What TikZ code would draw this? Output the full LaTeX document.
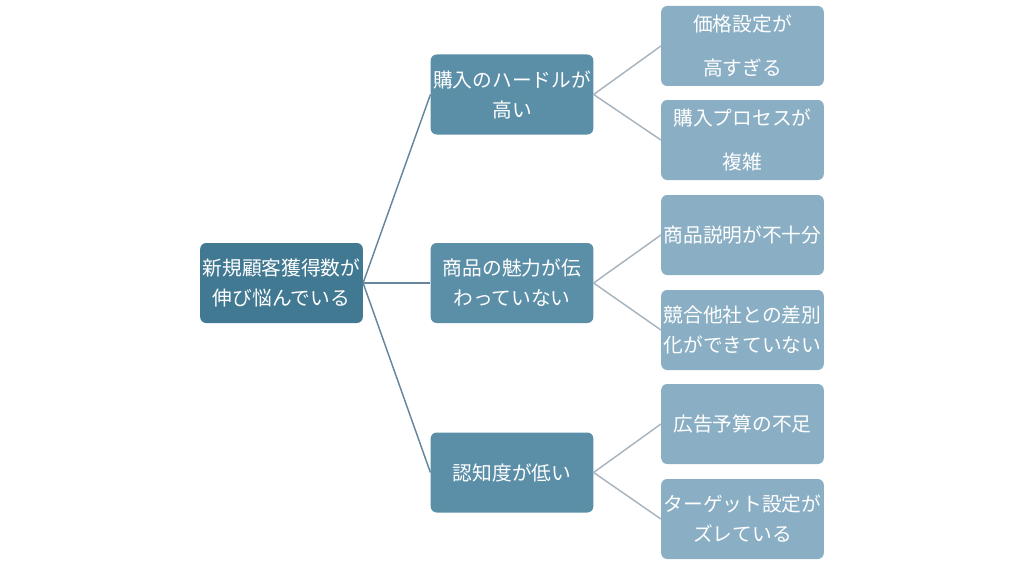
\documentclass[tikz,border=0pt]{standalone}
\usepackage{fontspec}
\setmainfont{Noto Sans CJK JP}
\definecolor{rootblue}{RGB}{66,121,146}
\definecolor{midblue}{RGB}{91,142,167}
\definecolor{leafblue}{RGB}{138,175,196}
\definecolor{midline}{RGB}{104,133,158}
\definecolor{leafline}{RGB}{168,180,190}
\tikzset{
  box/.style={rounded corners=4.5pt, text=white, align=center, inner sep=0.5pt,
    minimum width=121pt, minimum height=60pt, text width=121pt,
    font=\fontsize{14.8pt}{22.5pt}\selectfont},
  rootbox/.style={box, fill=rootblue},
  midbox/.style={box, fill=midblue},
  leafbox/.style={box, fill=leafblue},
  widegap/.style={font=\fontsize{14.8pt}{32.5pt}\selectfont},
}
\begin{document}
\begin{tikzpicture}[x=0.75pt,y=-0.75pt]
      \useasboundingbox (0,0) rectangle (1024,567);

      % Root
      \node[rootbox] (root) at (281.5,283) {新規顧客獲得数が\\伸び悩んでいる};

      % Middle level
      \node[midbox] (buy) at (512,94.5) {購入のハードルが\\高い};
      \node[midbox] (appeal) at (512,283) {商品の魅力が伝\\わっていない};
      \node[midbox] (aware) at (512,472.5) {認知度が低い};

      % Leaves
      \node[leafbox, widegap] (price) at (742.5,46) {価格設定が\\高すぎる};
      \node[leafbox, widegap] (process) at (742.5,140) {購入プロセスが\\複雑};
      \node[leafbox] (explain) at (742.5,235) {商品説明が不十分};
      \node[leafbox] (compete) at (742.5,330) {競合他社との差別\\化ができていない};
      \node[leafbox] (budget) at (742.5,424) {広告予算の不足};
      \node[leafbox] (target) at (742.5,519) {ターゲット設定が\\ズレている};

      % Connectors
      \foreach \m in {buy, appeal, aware} {
          \draw[midline, line width=1.1pt] (root.east) -- (\m.west);
      }
      \foreach \m/\a/\b in {buy/price/process, appeal/explain/compete, aware/budget/target} {
          \draw[leafline, line width=1.1pt] (\m.east) -- (\a.west);
          \draw[leafline, line width=1.1pt] (\m.east) -- (\b.west);
      }

\end{tikzpicture}
\end{document}
